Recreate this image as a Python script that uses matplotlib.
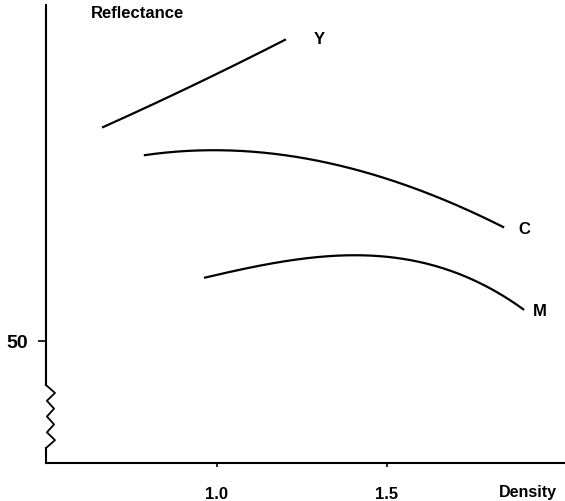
import numpy as np
import matplotlib.pyplot as plt

plt.rcParams['font.family'] = ['Liberation Sans', 'DejaVu Sans']
plt.rcParams['font.weight'] = 'bold'

# Curves (density vs reflectance)
y_density = [0.665, 0.891, 1.038, 1.200]
y_reflect = [71.4, 74.9, 77.4, 80.1]

c_density = [0.788, 0.940, 1.068, 1.185, 1.352, 1.529, 1.676, 1.842]
c_reflect = [68.6, 69.03, 69.03, 68.6, 67.67, 65.93, 63.93, 61.43]

m_density = [0.965, 1.117, 1.332, 1.470, 1.607, 1.764, 1.901]
m_reflect = [56.43, 57.27, 58.6, 58.6, 57.83, 55.77, 53.27]

x_ticks = [1.0, 1.5]
x_ticklabels = ['1.0', '1.5']
y_ticks = [50]
y_ticklabels = ['50']

fig = plt.figure(figsize=(5.65, 5.01), dpi=100)
ax = fig.add_axes([0.0814, 0.0758, 0.9186, 0.9142])
ax.set_xlim(0.497, 2.024)
ax.set_ylim(37.8, 83.6)


def smooth(xs, ys, deg=3, n=200):
    xs = np.asarray(xs)
    ys = np.asarray(ys)
    p = np.polyfit(xs, ys, deg)
    xx = np.linspace(xs[0], xs[-1], n)
    return xx, np.polyval(p, xx)


ax.plot(*smooth(y_density, y_reflect, deg=2), color='black', lw=1.6)
ax.plot(*smooth(c_density, c_reflect), color='black', lw=1.6)
ax.plot(*smooth(m_density, m_reflect), color='black', lw=1.6)

ax.text(1.3, 80.2, 'Y', fontsize=12, ha='center', va='center')
ax.text(1.903, 61.2, 'C', fontsize=12, ha='center', va='center')
ax.text(1.95, 53.0, 'M', fontsize=12, ha='center', va='center')

# axes styling
for s in ['top', 'right', 'left']:
    ax.spines[s].set_visible(False)
ax.spines['bottom'].set_linewidth(1.5)

ax.set_xticks(x_ticks)
ax.set_xticklabels(x_ticklabels, fontsize=12, fontweight='bold')
ax.tick_params(axis='x', direction='out', length=3, width=1.2, pad=14)
ax.set_yticks(y_ticks)
ax.set_yticklabels(y_ticklabels, fontsize=14, fontweight='bold')
ax.tick_params(axis='y', direction='out', length=6, width=1.2, pad=7)

# left axis with zigzag break
x0 = 0.497
dx = 9 / 340
break_top, break_bot = 50 - 4.4, 50 - 10.7
zz_y = np.linspace(break_top, break_bot, 9)
zz_x = [x0, x0 + dx, x0 + 0.1 * dx, x0 + 0.9 * dx, x0 + 0.1 * dx,
        x0 + 0.9 * dx, x0 + 0.1 * dx, x0 + dx, x0]
ax.plot([x0, x0], [83.6, break_top], color='black', lw=1.5, clip_on=False)
ax.plot(zz_x, zz_y, color='black', lw=1.3, clip_on=False)
ax.plot([x0, x0], [break_bot, 37.8], color='black', lw=1.5, clip_on=False)

fig.text(137 / 565, 1 - 14 / 501, 'Reflectance', fontsize=12,
         ha='center', va='center')
fig.text(528 / 565, 1 - 492 / 501, 'Density', fontsize=11.5,
         ha='center', va='center')

fig.savefig('out.png', dpi=100)
